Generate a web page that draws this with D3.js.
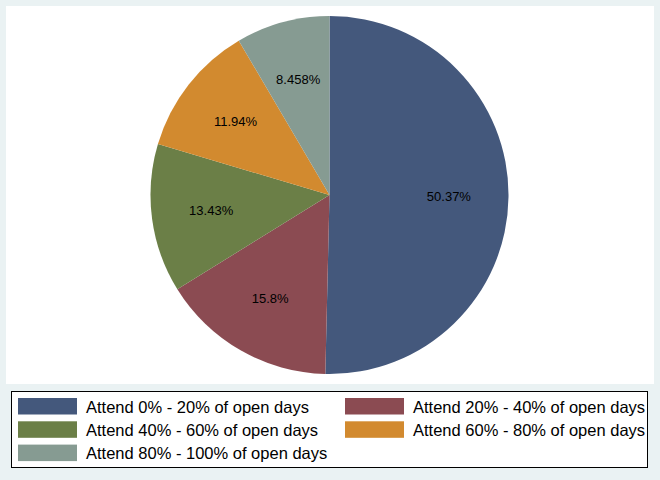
<!DOCTYPE html>
<html>
<head>
<meta charset="utf-8">
<script src="https://cdn.jsdelivr.net/npm/d3@7"></script>
<style>
  body { margin: 0; background: #eaf2f3; }
  text { font-family: "Liberation Sans", Arial, sans-serif; }
</style>
</head>
<body>
<div id="chart"></div>
<script>
// Categories and shares (percent of children)
var categories = [
    "Attend 0% - 20% of open days",
    "Attend 20% - 40% of open days",
    "Attend 40% - 60% of open days",
    "Attend 60% - 80% of open days",
    "Attend 80% - 100% of open days"
];
var shares = [50.37, 15.8, 13.43, 11.94, 8.458];
var labels = ["50.37%", "15.8%", "13.43%", "11.94%", "8.458%"];
var colors = ["#44587c", "#8b4b52", "#6b7f47", "#d28a2f", "#869b92"];

var w = 660, h = 480;
var cx = 329.5, cy = 195, r = 179;

var svg = d3.select("#chart")
    .append("svg")
    .attr("width", w)
    .attr("height", h);

// outer background and white plot region
svg.append("rect").attr("width", w).attr("height", h).attr("fill", "#eaf2f3");
svg.append("rect")
    .attr("x", 6).attr("y", 6)
    .attr("width", 648).attr("height", 378)
    .attr("fill", "#ffffff");

var data = shares.map(function(d, i) { return { value: d, i: i }; });

// Stata draws the first slice from 12 o'clock going clockwise
var pie = d3.pie()
    .value(function(d) { return d.value; })
    .sort(null)
    .startAngle(0)
    .endAngle(2 * Math.PI);

var arc = d3.arc().innerRadius(0).outerRadius(r);
var labelArc = d3.arc().innerRadius(r * 0.667).outerRadius(r * 0.667);

var g = svg.append("g").attr("transform", "translate(" + cx + "," + cy + ")");

var arcs = pie(data);

g.selectAll("path")
    .data(arcs)
    .enter()
    .append("path")
    .attr("d", arc)
    .attr("fill", function(d) { return colors[d.data.i]; });

g.selectAll("text")
    .data(arcs)
    .enter()
    .append("text")
    .attr("transform", function(d) { return "translate(" + labelArc.centroid(d) + ")"; })
    .attr("text-anchor", "middle")
    .attr("dy", "0.35em")
    .attr("font-size", 13)
    .attr("fill", "#000")
    .text(function(d) { return labels[d.data.i]; });

// Legend box
var legend = svg.append("g");
legend.append("rect")
    .attr("x", 11.5).attr("y", 391.5)
    .attr("width", 636).attr("height", 76)
    .attr("fill", "#ffffff")
    .attr("stroke", "#000")
    .attr("stroke-width", 1);

var colX = [18, 345];
var rowY = [398, 421.3, 444.6];

var items = legend.selectAll("g.item")
    .data(categories)
    .enter()
    .append("g")
    .attr("class", "item")
    .attr("transform", function(d, i) {
        return "translate(" + colX[i % 2] + "," + rowY[Math.floor(i / 2)] + ")";
    });

items.append("rect")
    .attr("width", 59)
    .attr("height", 16.5)
    .attr("fill", function(d, i) { return colors[i]; });

items.append("text")
    .attr("x", 68)
    .attr("y", 14.5)
    .attr("font-size", 16.5)
    .attr("fill", "#000")
    .text(function(d) { return d; });
</script>
</body>
</html>
